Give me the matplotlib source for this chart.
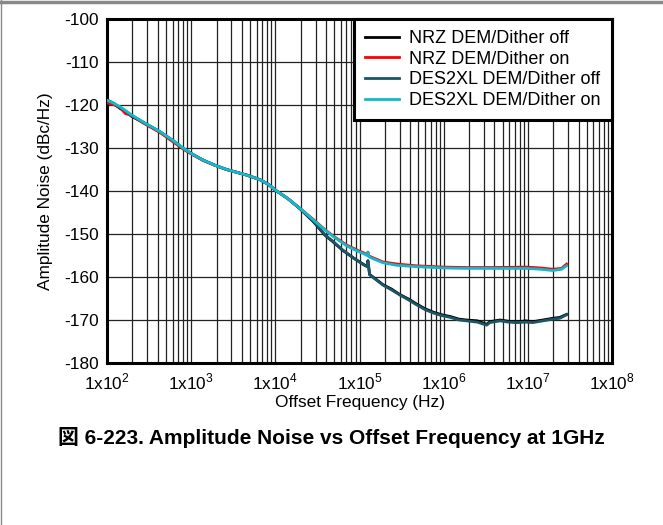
import matplotlib
matplotlib.use("Agg")
import matplotlib.pyplot as plt
import numpy as np
from matplotlib.lines import Line2D

plt.rcParams['font.family'] = ['Liberation Sans', 'Noto Sans CJK JP', 'DejaVu Sans']
plt.rcParams['axes.unicode_minus'] = False
plt.rcParams['mathtext.fontset'] = 'custom'
plt.rcParams['mathtext.rm'] = 'Liberation Sans'

# log10 of offset frequency (Hz)
logf_hi = [2.00, 2.08, 2.155, 2.22, 2.29, 2.45, 2.63, 2.78, 2.91, 3.02, 3.14, 3.28, 3.42,
           3.55, 3.66, 3.75, 3.82, 3.92, 4.00, 4.15, 4.29, 4.45, 4.59, 4.69, 4.85, 5.00,
           5.05, 5.09, 5.10, 5.11, 5.18, 5.28, 5.45, 5.68, 6.00, 6.27, 6.60, 6.99, 7.15,
           7.30, 7.40, 7.46]
nrz_on = [-119.5, -119.9, -120.6, -122.0, -122.4, -124.4, -126.4, -128.5, -130.3, -131.6,
          -132.9, -134.0, -135.0, -135.7, -136.3, -136.9, -137.4, -138.5, -139.8, -141.8,
          -144.0, -146.6, -149.0, -150.5, -152.6, -154.0, -154.4, -154.8, -154.2, -155.1,
          -155.7, -156.5, -157.0, -157.4, -157.7, -157.8, -157.8, -157.7, -157.9, -158.2,
          -158.0, -157.0]
des_on = [-118.9, -119.6, -120.4, -121.3, -122.3, -124.2, -126.2, -128.2, -130.1, -131.5,
          -132.8, -134.0, -135.0, -135.7, -136.3, -136.9, -137.4, -138.5, -139.8, -141.8,
          -144.0, -146.7, -149.1, -150.6, -152.8, -154.2, -154.6, -155.0, -154.3, -155.3,
          -155.9, -156.7, -157.3, -157.6, -157.9, -158.0, -158.0, -158.0, -158.2, -158.5,
          -158.2, -157.4]

logf_lo = [2.00, 2.08, 2.155, 2.22, 2.29, 2.45, 2.63, 2.78, 2.91, 3.02, 3.14, 3.28, 3.42,
           3.55, 3.66, 3.75, 3.82, 3.92, 4.00, 4.15, 4.29, 4.45, 4.59, 4.69, 4.80, 4.93,
           5.05, 5.09, 5.10, 5.12, 5.20, 5.28, 5.38, 5.48, 5.58, 5.68, 5.78, 5.88, 5.98,
           6.08, 6.18, 6.27, 6.40, 6.51, 6.55, 6.67, 6.77, 6.87, 6.97, 7.06, 7.18, 7.30,
           7.38, 7.46]
nrz_off = [-118.8, -119.7, -120.8, -121.5, -122.6, -124.3, -126.3, -128.3, -130.2, -131.5,
           -132.8, -134.0, -135.0, -135.7, -136.3, -136.9, -137.4, -138.5, -139.8, -141.8,
           -144.1, -147.1, -150.3, -151.9, -153.8, -155.6, -157.1, -157.5, -156.2, -159.4,
           -160.6, -161.8, -162.8, -164.1, -165.1, -166.3, -167.4, -168.2, -168.8, -169.2,
           -169.8, -170.0, -170.2, -171.0, -170.4, -170.0, -170.3, -170.5, -170.2, -170.4,
           -170.0, -169.6, -169.4, -168.7]
des_off = [-118.9, -119.6, -120.6, -121.4, -122.4, -124.2, -126.2, -128.2, -130.1, -131.5,
           -132.8, -134.0, -135.0, -135.7, -136.3, -136.9, -137.4, -138.5, -139.8, -141.8,
           -144.0, -147.0, -150.2, -151.8, -153.7, -155.6, -157.2, -157.6, -156.4, -159.5,
           -160.7, -161.9, -163.0, -164.2, -165.3, -166.5, -167.6, -168.4, -169.0, -169.4,
           -170.0, -170.2, -170.5, -171.2, -170.6, -170.2, -170.5, -170.6, -170.5, -170.6,
           -170.2, -169.8, -169.6, -168.8]

labels = ['NRZ DEM/Dither off', 'NRZ DEM/Dither on', 'DES2XL DEM/Dither off', 'DES2XL DEM/Dither on']
colors = ['#000000', '#ff0000', '#1b5566', '#12b9cb']
xtick_pos = [1e2, 1e3, 1e4, 1e5, 1e6, 1e7, 1e8]
xtick_lbl = [r'1x10$^{%d}$' % e for e in range(2, 9)]
yticks = [-100, -110, -120, -130, -140, -150, -160, -170, -180]

fig = plt.figure(figsize=(6.63, 5.25), dpi=100)
ax = fig.add_axes([0.1614, 0.3086, 0.7617, 0.6552])

f_hi = 10 ** np.array(logf_hi)
f_lo = 10 ** np.array(logf_lo)
ax.plot(f_lo, nrz_off, color=colors[0], lw=2.0, label=labels[0], zorder=3)
ax.plot(f_hi, nrz_on, color=colors[1], lw=2.0, label=labels[1], zorder=3)
ax.plot(f_lo, des_off, color=colors[2], lw=2.0, label=labels[2], zorder=4)
ax.plot(f_hi, des_on, color=colors[3], lw=2.0, label=labels[3], zorder=4)

ax.set_xscale('log')
ax.set_xlim(1e2, 1e8)
ax.set_ylim(-180, -100)
ax.set_xticks(xtick_pos)
ax.set_xticklabels(xtick_lbl)
ax.set_yticks(yticks)
ax.set_yticklabels([str(v) for v in yticks])
ax.tick_params(which='both', length=0, labelsize=12.4)
ax.tick_params(axis='y', pad=6)
ax.tick_params(axis='x', pad=6)
ax.grid(True, which='major', color='#222222', lw=0.9)
ax.grid(True, which='minor', axis='x', color='#222222', lw=0.9)
for s in ax.spines.values():
    s.set_linewidth(2.2)

ax.set_xlabel('Offset Frequency (Hz)', fontsize=12.4, labelpad=2)
ax.set_ylabel('Amplitude Noise (dBc/Hz)', fontsize=12.4, labelpad=8)

leg = ax.legend(loc='upper right', fontsize=13, frameon=True, fancybox=False,
                borderaxespad=0, framealpha=1, edgecolor='black',
                handlelength=1.9, handletextpad=0.55, labelspacing=0.2,
                borderpad=0.62)
leg.get_frame().set_linewidth(2.2)
leg.set_zorder(5)

fig.text(0.5, 1 - 437 / 525, '図 6-223. Amplitude Noise vs Offset Frequency at 1GHz',
         ha='center', va='center', fontsize=15, fontweight='bold')

# thin gray page border at top and left
fig.add_artist(Line2D([0, 1], [0.997, 0.997], color='#888888', lw=2.5, transform=fig.transFigure))
fig.add_artist(Line2D([0.001, 0.001], [0, 1], color='#888888', lw=1, transform=fig.transFigure))

fig.savefig('out.png', dpi=100)
